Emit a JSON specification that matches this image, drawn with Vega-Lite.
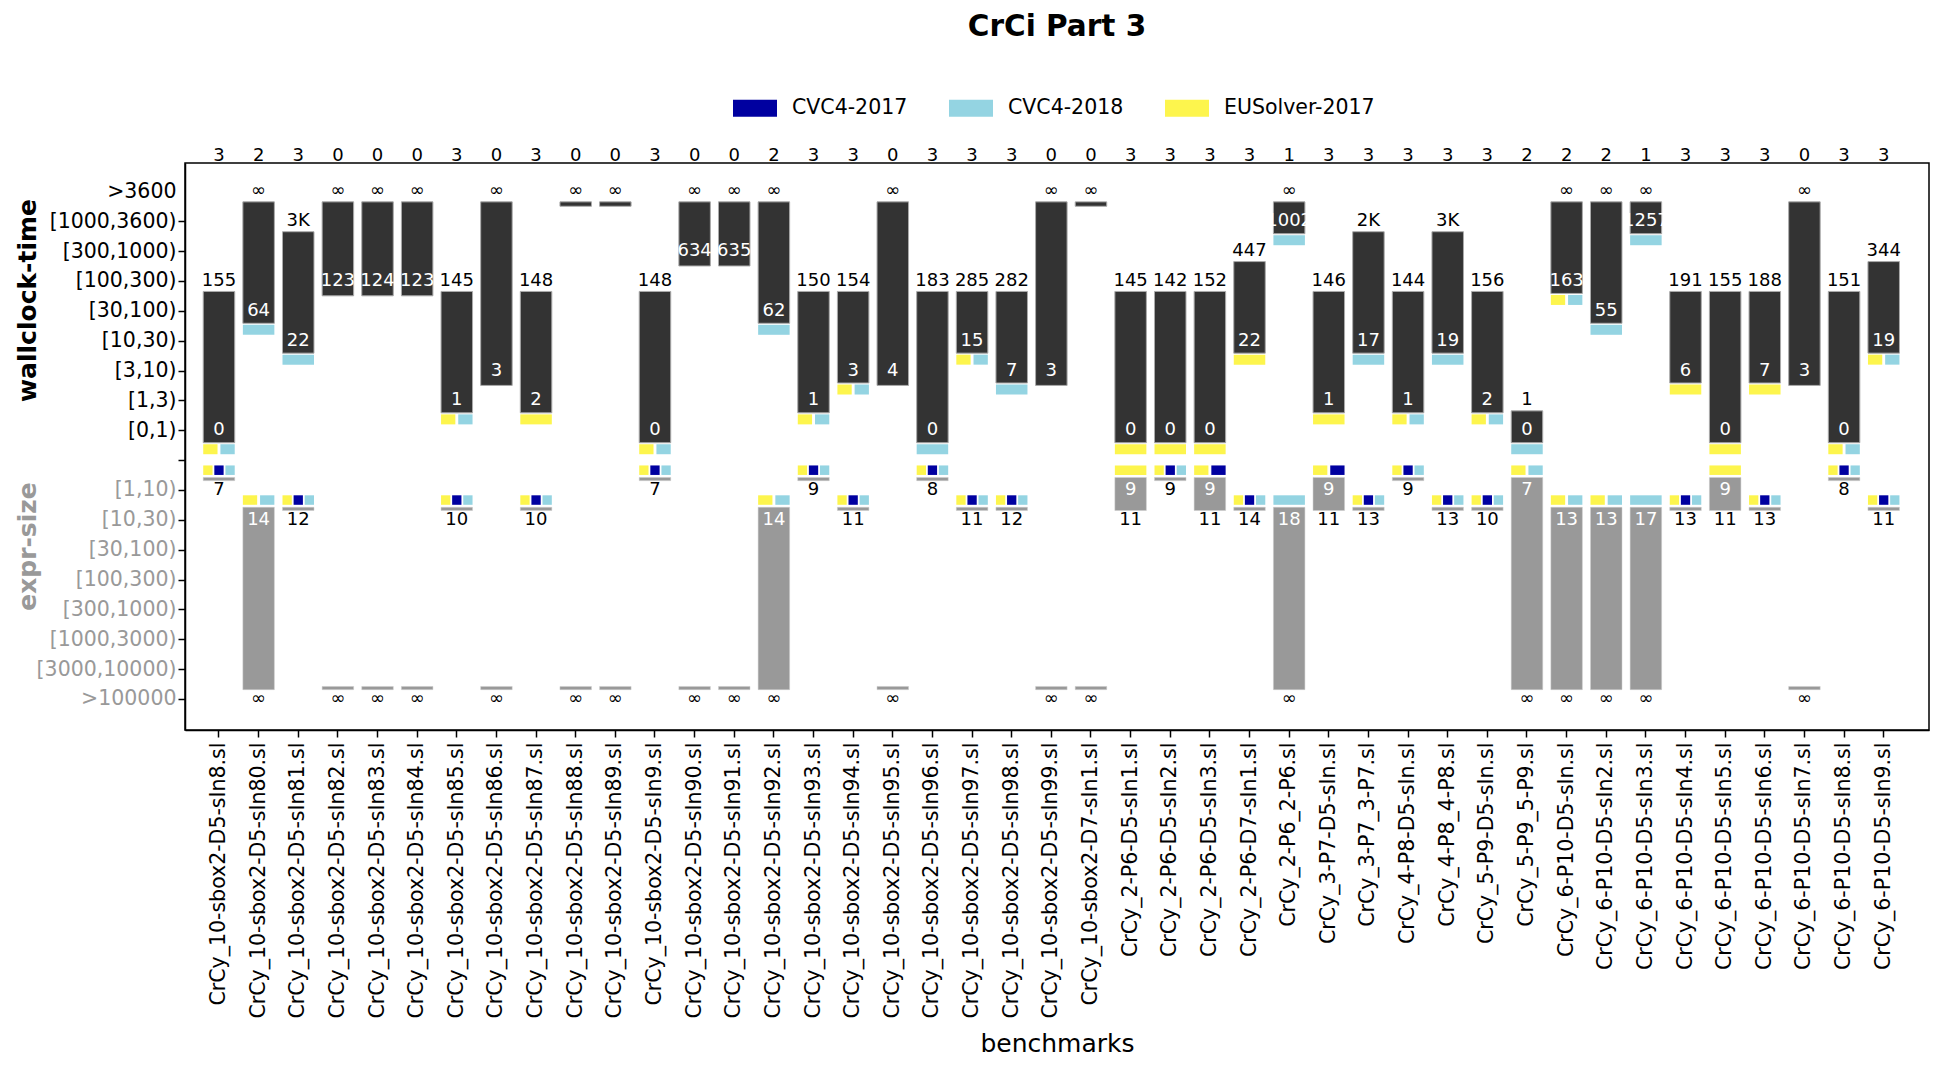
{
"$schema": "https://vega.github.io/schema/vega-lite/v6.json",
"width": 1744, "height": 567,
"autosize": {"type": "none"},
"padding": {"left": 185, "top": 163, "right": 23, "bottom": 344},
"title": {"text": "CrCi Part 3", "fontSize": 29.5, "fontWeight": "bold", "font": "DejaVu Sans", "anchor": "middle", "frame": "group", "baseline": "alphabetic", "offset": 20.5},
"config": {
  "font": "DejaVu Sans",
  "view": {"stroke": "#000000", "strokeWidth": 1.5},
  "axis": {"domainColor": "#000000", "domainWidth": 1.5, "tickColor": "#000000", "tickWidth": 1.5, "labelColor": "#000000", "grid": false},
  "range": {"category": ["#0000a0", "#94d4e2", "#fdf54d"]},
  "legend": {"orient": "none", "legendX": 548, "legendY": -77, "direction": "horizontal", "symbolType": "M-1,-0.386H1V0.386H-1Z", "symbolSize": 1936, "symbolStrokeWidth": 0, "symbolOpacity": 1, "labelFontSize": 20.5, "labelFont": "DejaVu Sans", "labelOffset": 15, "columnPadding": 41, "padding": 0}
},
"datasets": {"bench": [
{"name":"CrCy_10-sbox2-D5-sIn8.sl","n":3,"tmax":14,"tmaxL":"155","tmin":9,"tminL":"0","smin":7,"sminL":"7","smax":7,"smaxL":"7","tw":["EUSolver-2017","CVC4-2018"],"sw":["EUSolver-2017","CVC4-2017","CVC4-2018"]},
{"name":"CrCy_10-sbox2-D5-sIn80.sl","n":2,"tmax":17,"tmaxL":"∞","tmin":13,"tminL":"64","smin":6,"sminL":"14","smax":0,"smaxL":"∞","tw":["CVC4-2018"],"sw":["EUSolver-2017","CVC4-2018"]},
{"name":"CrCy_10-sbox2-D5-sIn81.sl","n":3,"tmax":16,"tmaxL":"3K","tmin":12,"tminL":"22","smin":6,"sminL":"12","smax":6,"smaxL":"12","tw":["CVC4-2018"],"sw":["EUSolver-2017","CVC4-2017","CVC4-2018"]},
{"name":"CrCy_10-sbox2-D5-sIn82.sl","n":0,"tmax":17,"tmaxL":"∞","tmin":14,"tminL":"123","smin":0,"sminL":"∞","smax":0,"smaxL":"∞","tw":[],"sw":[]},
{"name":"CrCy_10-sbox2-D5-sIn83.sl","n":0,"tmax":17,"tmaxL":"∞","tmin":14,"tminL":"124","smin":0,"sminL":"∞","smax":0,"smaxL":"∞","tw":[],"sw":[]},
{"name":"CrCy_10-sbox2-D5-sIn84.sl","n":0,"tmax":17,"tmaxL":"∞","tmin":14,"tminL":"123","smin":0,"sminL":"∞","smax":0,"smaxL":"∞","tw":[],"sw":[]},
{"name":"CrCy_10-sbox2-D5-sIn85.sl","n":3,"tmax":14,"tmaxL":"145","tmin":10,"tminL":"1","smin":6,"sminL":"10","smax":6,"smaxL":"10","tw":["EUSolver-2017","CVC4-2018"],"sw":["EUSolver-2017","CVC4-2017","CVC4-2018"]},
{"name":"CrCy_10-sbox2-D5-sIn86.sl","n":0,"tmax":17,"tmaxL":"∞","tmin":11,"tminL":"3","smin":0,"sminL":"∞","smax":0,"smaxL":"∞","tw":[],"sw":[]},
{"name":"CrCy_10-sbox2-D5-sIn87.sl","n":3,"tmax":14,"tmaxL":"148","tmin":10,"tminL":"2","smin":6,"sminL":"10","smax":6,"smaxL":"10","tw":["EUSolver-2017"],"sw":["EUSolver-2017","CVC4-2017","CVC4-2018"]},
{"name":"CrCy_10-sbox2-D5-sIn88.sl","n":0,"tmax":17,"tmaxL":"∞","tmin":17,"tminL":"∞","smin":0,"sminL":"∞","smax":0,"smaxL":"∞","tw":[],"sw":[]},
{"name":"CrCy_10-sbox2-D5-sIn89.sl","n":0,"tmax":17,"tmaxL":"∞","tmin":17,"tminL":"∞","smin":0,"sminL":"∞","smax":0,"smaxL":"∞","tw":[],"sw":[]},
{"name":"CrCy_10-sbox2-D5-sIn9.sl","n":3,"tmax":14,"tmaxL":"148","tmin":9,"tminL":"0","smin":7,"sminL":"7","smax":7,"smaxL":"7","tw":["EUSolver-2017","CVC4-2018"],"sw":["EUSolver-2017","CVC4-2017","CVC4-2018"]},
{"name":"CrCy_10-sbox2-D5-sIn90.sl","n":0,"tmax":17,"tmaxL":"∞","tmin":15,"tminL":"634","smin":0,"sminL":"∞","smax":0,"smaxL":"∞","tw":[],"sw":[]},
{"name":"CrCy_10-sbox2-D5-sIn91.sl","n":0,"tmax":17,"tmaxL":"∞","tmin":15,"tminL":"635","smin":0,"sminL":"∞","smax":0,"smaxL":"∞","tw":[],"sw":[]},
{"name":"CrCy_10-sbox2-D5-sIn92.sl","n":2,"tmax":17,"tmaxL":"∞","tmin":13,"tminL":"62","smin":6,"sminL":"14","smax":0,"smaxL":"∞","tw":["CVC4-2018"],"sw":["EUSolver-2017","CVC4-2018"]},
{"name":"CrCy_10-sbox2-D5-sIn93.sl","n":3,"tmax":14,"tmaxL":"150","tmin":10,"tminL":"1","smin":7,"sminL":"9","smax":7,"smaxL":"9","tw":["EUSolver-2017","CVC4-2018"],"sw":["EUSolver-2017","CVC4-2017","CVC4-2018"]},
{"name":"CrCy_10-sbox2-D5-sIn94.sl","n":3,"tmax":14,"tmaxL":"154","tmin":11,"tminL":"3","smin":6,"sminL":"11","smax":6,"smaxL":"11","tw":["EUSolver-2017","CVC4-2018"],"sw":["EUSolver-2017","CVC4-2017","CVC4-2018"]},
{"name":"CrCy_10-sbox2-D5-sIn95.sl","n":0,"tmax":17,"tmaxL":"∞","tmin":11,"tminL":"4","smin":0,"sminL":"∞","smax":0,"smaxL":"∞","tw":[],"sw":[]},
{"name":"CrCy_10-sbox2-D5-sIn96.sl","n":3,"tmax":14,"tmaxL":"183","tmin":9,"tminL":"0","smin":7,"sminL":"8","smax":7,"smaxL":"8","tw":["CVC4-2018"],"sw":["EUSolver-2017","CVC4-2017","CVC4-2018"]},
{"name":"CrCy_10-sbox2-D5-sIn97.sl","n":3,"tmax":14,"tmaxL":"285","tmin":12,"tminL":"15","smin":6,"sminL":"11","smax":6,"smaxL":"11","tw":["EUSolver-2017","CVC4-2018"],"sw":["EUSolver-2017","CVC4-2017","CVC4-2018"]},
{"name":"CrCy_10-sbox2-D5-sIn98.sl","n":3,"tmax":14,"tmaxL":"282","tmin":11,"tminL":"7","smin":6,"sminL":"12","smax":6,"smaxL":"12","tw":["CVC4-2018"],"sw":["EUSolver-2017","CVC4-2017","CVC4-2018"]},
{"name":"CrCy_10-sbox2-D5-sIn99.sl","n":0,"tmax":17,"tmaxL":"∞","tmin":11,"tminL":"3","smin":0,"sminL":"∞","smax":0,"smaxL":"∞","tw":[],"sw":[]},
{"name":"CrCy_10-sbox2-D7-sIn1.sl","n":0,"tmax":17,"tmaxL":"∞","tmin":17,"tminL":"∞","smin":0,"sminL":"∞","smax":0,"smaxL":"∞","tw":[],"sw":[]},
{"name":"CrCy_2-P6-D5-sIn1.sl","n":3,"tmax":14,"tmaxL":"145","tmin":9,"tminL":"0","smin":7,"sminL":"9","smax":6,"smaxL":"11","tw":["EUSolver-2017"],"sw":["EUSolver-2017"]},
{"name":"CrCy_2-P6-D5-sIn2.sl","n":3,"tmax":14,"tmaxL":"142","tmin":9,"tminL":"0","smin":7,"sminL":"9","smax":7,"smaxL":"9","tw":["EUSolver-2017"],"sw":["EUSolver-2017","CVC4-2017","CVC4-2018"]},
{"name":"CrCy_2-P6-D5-sIn3.sl","n":3,"tmax":14,"tmaxL":"152","tmin":9,"tminL":"0","smin":7,"sminL":"9","smax":6,"smaxL":"11","tw":["EUSolver-2017"],"sw":["EUSolver-2017","CVC4-2017"]},
{"name":"CrCy_2-P6-D7-sIn1.sl","n":3,"tmax":15,"tmaxL":"447","tmin":12,"tminL":"22","smin":6,"sminL":"14","smax":6,"smaxL":"14","tw":["EUSolver-2017"],"sw":["EUSolver-2017","CVC4-2017","CVC4-2018"]},
{"name":"CrCy_2-P6_2-P6.sl","n":1,"tmax":17,"tmaxL":"∞","tmin":16,"tminL":"1002","smin":6,"sminL":"18","smax":0,"smaxL":"∞","tw":["CVC4-2018"],"sw":["CVC4-2018"]},
{"name":"CrCy_3-P7-D5-sIn.sl","n":3,"tmax":14,"tmaxL":"146","tmin":10,"tminL":"1","smin":7,"sminL":"9","smax":6,"smaxL":"11","tw":["EUSolver-2017"],"sw":["EUSolver-2017","CVC4-2017"]},
{"name":"CrCy_3-P7_3-P7.sl","n":3,"tmax":16,"tmaxL":"2K","tmin":12,"tminL":"17","smin":6,"sminL":"13","smax":6,"smaxL":"13","tw":["CVC4-2018"],"sw":["EUSolver-2017","CVC4-2017","CVC4-2018"]},
{"name":"CrCy_4-P8-D5-sIn.sl","n":3,"tmax":14,"tmaxL":"144","tmin":10,"tminL":"1","smin":7,"sminL":"9","smax":7,"smaxL":"9","tw":["EUSolver-2017","CVC4-2018"],"sw":["EUSolver-2017","CVC4-2017","CVC4-2018"]},
{"name":"CrCy_4-P8_4-P8.sl","n":3,"tmax":16,"tmaxL":"3K","tmin":12,"tminL":"19","smin":6,"sminL":"13","smax":6,"smaxL":"13","tw":["CVC4-2018"],"sw":["EUSolver-2017","CVC4-2017","CVC4-2018"]},
{"name":"CrCy_5-P9-D5-sIn.sl","n":3,"tmax":14,"tmaxL":"156","tmin":10,"tminL":"2","smin":6,"sminL":"10","smax":6,"smaxL":"10","tw":["EUSolver-2017","CVC4-2018"],"sw":["EUSolver-2017","CVC4-2017","CVC4-2018"]},
{"name":"CrCy_5-P9_5-P9.sl","n":2,"tmax":10,"tmaxL":"1","tmin":9,"tminL":"0","smin":7,"sminL":"7","smax":0,"smaxL":"∞","tw":["CVC4-2018"],"sw":["EUSolver-2017","CVC4-2018"]},
{"name":"CrCy_6-P10-D5-sIn.sl","n":2,"tmax":17,"tmaxL":"∞","tmin":14,"tminL":"163","smin":6,"sminL":"13","smax":0,"smaxL":"∞","tw":["EUSolver-2017","CVC4-2018"],"sw":["EUSolver-2017","CVC4-2018"]},
{"name":"CrCy_6-P10-D5-sIn2.sl","n":2,"tmax":17,"tmaxL":"∞","tmin":13,"tminL":"55","smin":6,"sminL":"13","smax":0,"smaxL":"∞","tw":["CVC4-2018"],"sw":["EUSolver-2017","CVC4-2018"]},
{"name":"CrCy_6-P10-D5-sIn3.sl","n":1,"tmax":17,"tmaxL":"∞","tmin":16,"tminL":"1257","smin":6,"sminL":"17","smax":0,"smaxL":"∞","tw":["CVC4-2018"],"sw":["CVC4-2018"]},
{"name":"CrCy_6-P10-D5-sIn4.sl","n":3,"tmax":14,"tmaxL":"191","tmin":11,"tminL":"6","smin":6,"sminL":"13","smax":6,"smaxL":"13","tw":["EUSolver-2017"],"sw":["EUSolver-2017","CVC4-2017","CVC4-2018"]},
{"name":"CrCy_6-P10-D5-sIn5.sl","n":3,"tmax":14,"tmaxL":"155","tmin":9,"tminL":"0","smin":7,"sminL":"9","smax":6,"smaxL":"11","tw":["EUSolver-2017"],"sw":["EUSolver-2017"]},
{"name":"CrCy_6-P10-D5-sIn6.sl","n":3,"tmax":14,"tmaxL":"188","tmin":11,"tminL":"7","smin":6,"sminL":"13","smax":6,"smaxL":"13","tw":["EUSolver-2017"],"sw":["EUSolver-2017","CVC4-2017","CVC4-2018"]},
{"name":"CrCy_6-P10-D5-sIn7.sl","n":0,"tmax":17,"tmaxL":"∞","tmin":11,"tminL":"3","smin":0,"sminL":"∞","smax":0,"smaxL":"∞","tw":[],"sw":[]},
{"name":"CrCy_6-P10-D5-sIn8.sl","n":3,"tmax":14,"tmaxL":"151","tmin":9,"tminL":"0","smin":7,"sminL":"8","smax":7,"smaxL":"8","tw":["EUSolver-2017","CVC4-2018"],"sw":["EUSolver-2017","CVC4-2017","CVC4-2018"]},
{"name":"CrCy_6-P10-D5-sIn9.sl","n":3,"tmax":15,"tmaxL":"344","tmin":12,"tminL":"19","smin":6,"sminL":"11","smax":6,"smaxL":"11","tw":["EUSolver-2017","CVC4-2018"],"sw":["EUSolver-2017","CVC4-2017","CVC4-2018"]}
]},
"data": {"name": "bench"},
"encoding": {
  "x": {"field": "name", "type": "nominal", "sort": "ascending",
    "scale": {"paddingInner": 0.2, "paddingOuter": 0.6, "align": 0.381},
    "axis": {"title": "benchmarks", "labelAngle": -90, "labelAlign": "right", "labelBaseline": "middle", "labelFontSize": 20.5, "labelPadding": 5, "labelLimit": 500, "labelOverlap": false, "tickSize": 7, "titleFontSize": 25, "titleFontWeight": "normal", "titleY": 313, "titleBaseline": "middle"}}
},
"resolve": {"scale": {"y": "shared"}, "axis": {"y": "independent"}},
"layer": [
  {"transform": [{"filter": "datum.n > 0"}],
   "mark": {"type": "bar", "width": 31.5, "color": "#333333", "stroke": "#aaaaaa", "strokeWidth": 1, "yOffset": 10.5, "y2Offset": 12.5},
   "encoding": {
     "y": {"field": "tmax", "type": "quantitative", "scale": {"domain": [-1.04, 17.95], "nice": false, "zero": false},
       "axis": {"orient": "left", "values": [0,1,2,3,4,5,6,7,8,9,10,11,12,13,14,15,16,17],
         "labelExpr": "['>100000','[3000,10000)','[1000,3000)','[300,1000)','[100,300)','[30,100)','[10,30)','[1,10)','','[0,1)','[1,3)','[3,10)','[10,30)','[30,100)','[100,300)','[300,1000)','[1000,3600)','>3600'][datum.value]",
         "labelFontSize": 20.5, "labelPadding": 2, "labelOverlap": false, "labelFlush": false, "tickSize": 7,
         "labelColor": {"condition": {"test": "datum.value <= 7", "value": "#999999"}, "value": "#000000"},
         "tickOpacity": {"condition": {"test": "datum.value == 17", "value": 0}, "value": 1},
         "title": "wallclock-time", "titleFontSize": 25, "titleFontWeight": "bold", "titleColor": "#000000",
         "titleX": -158, "titleY": 137, "titleAngle": 270, "titleAlign": "center", "titleBaseline": "middle"}},
     "y2": {"field": "tmin"}}},
  {"transform": [{"filter": "datum.n == 0"}],
   "mark": {"type": "bar", "width": 31.5, "color": "#333333", "stroke": "#aaaaaa", "strokeWidth": 1, "yOffset": 10.5, "y2Offset": 14.9},
   "encoding": {
     "y": {"field": "tmax", "type": "quantitative", "scale": {"domain": [-1.04, 17.95], "nice": false, "zero": false}, "axis": null},
     "y2": {"field": "tmin"}}},
  {"mark": {"type": "bar", "width": 31.5, "color": "#999999", "stroke": "#cccccc", "strokeWidth": 0.5, "yOffset": -12.5, "y2Offset": -9.3},
   "encoding": {
     "y": {"field": "smin", "type": "quantitative", "scale": {"domain": [-1.04, 17.95], "nice": false, "zero": false},
       "axis": {"orient": "left", "labels": false, "ticks": false, "domain": false, "grid": false,
         "title": "expr-size", "titleFontSize": 25, "titleFontWeight": "bold", "titleColor": "#999999",
         "titleX": -158, "titleY": 383, "titleAngle": 270, "titleAlign": "center", "titleBaseline": "middle"}},
     "y2": {"field": "smax"}}},
  {"transform": [{"flatten": ["tw"], "as": ["solver"]}, {"window": [{"op": "row_number", "as": "k"}], "groupby": ["name"]}, {"joinaggregate": [{"op": "count", "as": "m"}], "groupby": ["name"]}, {"filter": "datum.m == 1"}],
   "mark": {"type": "bar", "width": 31.5, "yOffset": 14, "y2Offset": 24},
   "encoding": {"y": {"field": "tmin", "type": "quantitative", "scale": {"domain": [-1.04, 17.95], "nice": false, "zero": false}, "axis": null}, "y2": {"field": "tmin"}, "color": {"field": "solver", "type": "nominal", "title": null}}},
  {"transform": [{"flatten": ["tw"], "as": ["solver"]}, {"window": [{"op": "row_number", "as": "k"}], "groupby": ["name"]}, {"joinaggregate": [{"op": "count", "as": "m"}], "groupby": ["name"]}, {"filter": "datum.m == 2 && datum.k == 1"}],
   "mark": {"type": "bar", "width": 14.3, "xOffset": -8.6, "yOffset": 14, "y2Offset": 24},
   "encoding": {"y": {"field": "tmin", "type": "quantitative", "scale": {"domain": [-1.04, 17.95], "nice": false, "zero": false}, "axis": null}, "y2": {"field": "tmin"}, "color": {"field": "solver", "type": "nominal", "title": null}}},
  {"transform": [{"flatten": ["tw"], "as": ["solver"]}, {"window": [{"op": "row_number", "as": "k"}], "groupby": ["name"]}, {"joinaggregate": [{"op": "count", "as": "m"}], "groupby": ["name"]}, {"filter": "datum.m == 2 && datum.k == 2"}],
   "mark": {"type": "bar", "width": 14.3, "xOffset": 8.6, "yOffset": 14, "y2Offset": 24},
   "encoding": {"y": {"field": "tmin", "type": "quantitative", "scale": {"domain": [-1.04, 17.95], "nice": false, "zero": false}, "axis": null}, "y2": {"field": "tmin"}, "color": {"field": "solver", "type": "nominal", "title": null}}},
  {"transform": [{"flatten": ["sw"], "as": ["solver"]}, {"window": [{"op": "row_number", "as": "k"}], "groupby": ["name"]}, {"joinaggregate": [{"op": "count", "as": "m"}], "groupby": ["name"]}, {"filter": "datum.m == 1"}],
   "mark": {"type": "bar", "width": 31.5, "yOffset": -24.5, "y2Offset": -15},
   "encoding": {"y": {"field": "smin", "type": "quantitative", "scale": {"domain": [-1.04, 17.95], "nice": false, "zero": false}, "axis": null}, "y2": {"field": "smin"}, "color": {"field": "solver", "type": "nominal", "title": null}}},
  {"transform": [{"flatten": ["sw"], "as": ["solver"]}, {"window": [{"op": "row_number", "as": "k"}], "groupby": ["name"]}, {"joinaggregate": [{"op": "count", "as": "m"}], "groupby": ["name"]}, {"filter": "datum.m == 2 && datum.k == 1"}],
   "mark": {"type": "bar", "width": 14.3, "xOffset": -8.6, "yOffset": -24.5, "y2Offset": -15},
   "encoding": {"y": {"field": "smin", "type": "quantitative", "scale": {"domain": [-1.04, 17.95], "nice": false, "zero": false}, "axis": null}, "y2": {"field": "smin"}, "color": {"field": "solver", "type": "nominal", "title": null}}},
  {"transform": [{"flatten": ["sw"], "as": ["solver"]}, {"window": [{"op": "row_number", "as": "k"}], "groupby": ["name"]}, {"joinaggregate": [{"op": "count", "as": "m"}], "groupby": ["name"]}, {"filter": "datum.m == 2 && datum.k == 2"}],
   "mark": {"type": "bar", "width": 14.3, "xOffset": 8.6, "yOffset": -24.5, "y2Offset": -15},
   "encoding": {"y": {"field": "smin", "type": "quantitative", "scale": {"domain": [-1.04, 17.95], "nice": false, "zero": false}, "axis": null}, "y2": {"field": "smin"}, "color": {"field": "solver", "type": "nominal", "title": null}}},
  {"transform": [{"flatten": ["sw"], "as": ["solver"]}, {"window": [{"op": "row_number", "as": "k"}], "groupby": ["name"]}, {"joinaggregate": [{"op": "count", "as": "m"}], "groupby": ["name"]}, {"filter": "datum.m == 3 && datum.k == 1"}],
   "mark": {"type": "bar", "width": 9.3, "xOffset": -11.1, "yOffset": -24.5, "y2Offset": -15},
   "encoding": {"y": {"field": "smin", "type": "quantitative", "scale": {"domain": [-1.04, 17.95], "nice": false, "zero": false}, "axis": null}, "y2": {"field": "smin"}, "color": {"field": "solver", "type": "nominal", "title": null}}},
  {"transform": [{"flatten": ["sw"], "as": ["solver"]}, {"window": [{"op": "row_number", "as": "k"}], "groupby": ["name"]}, {"joinaggregate": [{"op": "count", "as": "m"}], "groupby": ["name"]}, {"filter": "datum.m == 3 && datum.k == 2"}],
   "mark": {"type": "bar", "width": 9.3, "xOffset": 0, "yOffset": -24.5, "y2Offset": -15},
   "encoding": {"y": {"field": "smin", "type": "quantitative", "scale": {"domain": [-1.04, 17.95], "nice": false, "zero": false}, "axis": null}, "y2": {"field": "smin"}, "color": {"field": "solver", "type": "nominal", "title": null}}},
  {"transform": [{"flatten": ["sw"], "as": ["solver"]}, {"window": [{"op": "row_number", "as": "k"}], "groupby": ["name"]}, {"joinaggregate": [{"op": "count", "as": "m"}], "groupby": ["name"]}, {"filter": "datum.m == 3 && datum.k == 3"}],
   "mark": {"type": "bar", "width": 9.3, "xOffset": 11.1, "yOffset": -24.5, "y2Offset": -15},
   "encoding": {"y": {"field": "smin", "type": "quantitative", "scale": {"domain": [-1.04, 17.95], "nice": false, "zero": false}, "axis": null}, "y2": {"field": "smin"}, "color": {"field": "solver", "type": "nominal", "title": null}}},
  {"mark": {"type": "text", "fontSize": 18, "baseline": "middle", "color": "#000000"},
   "encoding": {"y": {"datum": 18.2, "type": "quantitative", "scale": {"domain": [-1.04, 17.95], "nice": false, "zero": false}, "axis": null}, "text": {"field": "n"}}},
  {"mark": {"type": "text", "fontSize": 18, "baseline": "middle", "color": "#000000"},
   "encoding": {"y": {"field": "tmax", "type": "quantitative", "scale": {"domain": [-1.04, 17.95], "nice": false, "zero": false}, "axis": null}, "text": {"field": "tmaxL"}}},
  {"transform": [{"filter": "datum.tmin != datum.tmax"}],
   "mark": {"type": "text", "fontSize": 18, "baseline": "middle", "color": "#ffffff"},
   "encoding": {"y": {"field": "tmin", "type": "quantitative", "scale": {"domain": [-1.04, 17.95], "nice": false, "zero": false}, "axis": null}, "text": {"field": "tminL"}}},
  {"transform": [{"filter": "datum.smin != datum.smax"}],
   "mark": {"type": "text", "fontSize": 18, "baseline": "middle", "color": "#ffffff"},
   "encoding": {"y": {"field": "smin", "type": "quantitative", "scale": {"domain": [-1.04, 17.95], "nice": false, "zero": false}, "axis": null}, "text": {"field": "sminL"}}},
  {"mark": {"type": "text", "fontSize": 18, "baseline": "middle", "color": "#000000"},
   "encoding": {"y": {"field": "smax", "type": "quantitative", "scale": {"domain": [-1.04, 17.95], "nice": false, "zero": false}, "axis": null}, "text": {"field": "smaxL"}}}
]
}
